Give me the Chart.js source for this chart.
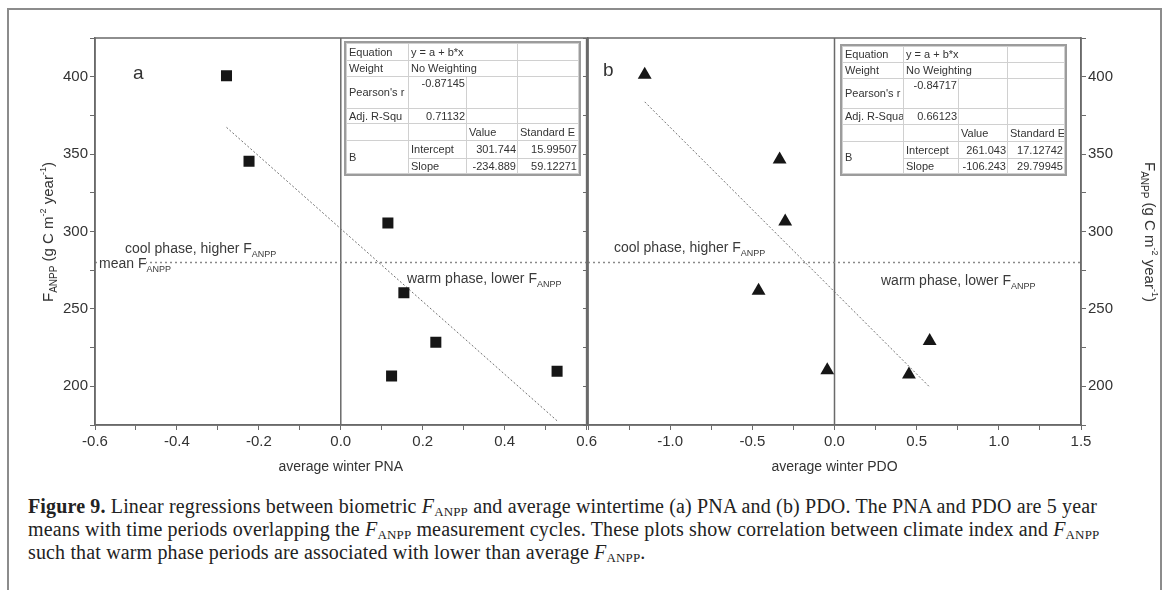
<!DOCTYPE html>
<html>
<head>
<meta charset="utf-8">
<script src="https://cdn.jsdelivr.net/npm/chart.js@4.4.0/dist/chart.umd.min.js"></script>
<style>
body{margin:0;width:1167px;height:590px;overflow:hidden;background:#fff;position:relative;font-family:"Liberation Sans",Arial,sans-serif;color:#333}
#frame{position:absolute;left:7px;top:8px;width:1151px;height:600px;border:2px solid #8c8c8c;border-bottom:none}
canvas{position:absolute;top:0}
#cA{left:0}
#cB{left:580px}
.lbl{position:absolute;font-size:14px;white-space:nowrap;color:#3a3a3a;line-height:16px}
.lbl sub{font-size:9px;vertical-align:-4px;line-height:0}
.lbl sup{font-size:9px;vertical-align:6px;line-height:0}
.letter{position:absolute;font-size:19px;color:#333}
.ytitle{position:absolute;font-size:15px;white-space:nowrap;color:#333;line-height:16px}
.ytitle sub{font-size:10px;vertical-align:-4px;line-height:0}
.ytitle sup{font-size:9px;vertical-align:7px;line-height:0}
table.stat{position:absolute;border-collapse:collapse;table-layout:fixed;font-size:11px;color:#333;background:#fff;outline:2px solid #9c9c9c;box-shadow:2px 2px 0 #d0d0d0}
table.stat td{border:1px solid #d0d0d0;padding:0 1px 0 2px;overflow:hidden;white-space:nowrap;line-height:13px}
table.stat td.num{text-align:right}
table.stat td.top{vertical-align:top}
#cap{position:absolute;left:28px;top:495px;font-family:"Liberation Serif","Times New Roman",serif;font-size:20px;line-height:23px;color:#222;white-space:nowrap;letter-spacing:0.15px}
#cap sub{font-size:13px;vertical-align:-3px;line-height:0}
</style>
</head>
<body>
<div id="frame"></div>
<canvas id="cA" width="600" height="490"></canvas>
<canvas id="cB" width="587" height="490"></canvas>

<div class="letter" style="left:133px;top:62px">a</div>
<div class="letter" style="left:603px;top:59px">b</div>

<div class="ytitle" style="left:48px;top:232px;transform:translate(-50%,-50%) rotate(-90deg)">F<sub>ANPP</sub> (g C m<sup>-2</sup> year<sup>-1</sup>)</div>
<div class="ytitle" style="left:1150px;top:232px;transform:translate(-50%,-50%) rotate(90deg)">F<sub>ANPP</sub> (g C m<sup>-2</sup> year<sup>-1</sup>)</div>

<div class="lbl" style="left:125px;top:240px">cool phase, higher F<sub>ANPP</sub></div>
<div class="lbl" style="left:99px;top:255px"><span style="background:#fff">mean F</span><sub>ANPP</sub></div>
<div class="lbl" style="left:407px;top:270px">warm phase, lower F<sub>ANPP</sub></div>
<div class="lbl" style="left:614px;top:239px">cool phase, higher F<sub>ANPP</sub></div>
<div class="lbl" style="left:881px;top:272px">warm phase, lower F<sub>ANPP</sub></div>

<table class="stat" id="tA" style="left:346px;top:43px;width:232px"></table>
<table class="stat" id="tB" style="left:842px;top:46px;width:222px"></table>

<div id="cap"><b>Figure 9.</b> Linear regressions between biometric <i>F</i><sub>ANPP</sub> and average wintertime (a) PNA and (b) PDO. The PNA and PDO are 5 year<br>means with time periods overlapping the <i>F</i><sub>ANPP</sub> measurement cycles. These plots show correlation between climate index and <i>F</i><sub>ANPP</sub><br>such that warm phase periods are associated with lower than average <i>F</i><sub>ANPP</sub>.</div>

<script>
// valores (painel a: PNA, painel b: PDO)
const pnaX = [-0.279, -0.224, 0.115, 0.154, 0.232, 0.124, 0.528];
const pnaF = [400.6, 345.4, 305.5, 260.5, 228.5, 206.6, 209.7];
const pdoX = [-1.155, -0.334, -0.300, -0.462, -0.044, 0.453, 0.579];
const pdoF = [401.2, 346.5, 306.4, 261.8, 210.3, 207.7, 229.2];
const meanF = 280;

// tabelas de regressão (Origin)
const statLabelsA = ['Equation', 'Weight', "Pearson's r", 'Adj. R-Squ'];
const statLabelsB = ['Equation', 'Weight', "Pearson's r", 'Adj. R-Squa'];
const statA = ['y = a + b*x', 'No Weighting', '-0.87145', '0.71132'];
const statB = ['y = a + b*x', 'No Weighting', '-0.84717', '0.66123'];
const coefA = [301.744, 15.99507, -234.889, 59.12271]; // intercept, erro, slope, erro
const coefB = [261.043, 17.12742, -106.243, 29.79945];

function fillTable(id, labels, stat, coef, cols, rows) {
    const t = document.getElementById(id);
    let h = '<colgroup>' + cols.map(w => '<col style="width:' + w + 'px">').join('') + '</colgroup>';
    h += '<tr style="height:' + rows[0] + 'px"><td>' + labels[0] + '</td><td colspan="2">' + stat[0] + '</td><td></td></tr>';
    h += '<tr style="height:' + rows[1] + 'px"><td>' + labels[1] + '</td><td colspan="2">' + stat[1] + '</td><td></td></tr>';
    h += '<tr style="height:' + rows[2] + 'px"><td>' + labels[2] + '</td><td class="num top">' + stat[2] + '</td><td></td><td></td></tr>';
    h += '<tr style="height:' + rows[3] + 'px"><td>' + labels[3] + '</td><td class="num">' + stat[3] + '</td><td></td><td></td></tr>';
    h += '<tr style="height:' + rows[4] + 'px"><td></td><td></td><td>Value</td><td>Standard E</td></tr>';
    h += '<tr style="height:' + rows[5] + 'px"><td rowspan="2">B</td><td>Intercept</td><td class="num">' + coef[0].toFixed(3) + '</td><td class="num">' + coef[1].toFixed(5) + '</td></tr>';
    h += '<tr style="height:' + rows[6] + 'px"><td>Slope</td><td class="num">' + coef[2].toFixed(3) + '</td><td class="num">' + coef[3].toFixed(5) + '</td></tr>';
    t.innerHTML = h;
}
fillTable('tA', statLabelsA, statA, coefA, [62, 58, 51, 61], [17, 16, 32, 15, 17, 18, 15]);
fillTable('tB', statLabelsB, statB, coefB, [61, 55, 49, 57], [16, 16, 30, 16, 17, 17, 15]);

const fonte = { family: 'Liberation Sans', size: 15 };
const cinza = '#6a6a6a';

// moldura do painel e linha do zero
const moldura = {
    id: 'moldura',
    beforeDatasetsDraw(chart) {
        const a = chart.chartArea, ctx = chart.ctx;
        const x0 = chart.scales.x.getPixelForValue(0);
        ctx.save();
        ctx.strokeStyle = cinza;
        ctx.lineWidth = 1.5;
        ctx.beginPath();
        ctx.moveTo(x0, a.top);
        ctx.lineTo(x0, a.bottom);
        ctx.stroke();
        ctx.restore();
    },
    afterDraw(chart) {
        const a = chart.chartArea, ctx = chart.ctx;
        ctx.save();
        ctx.strokeStyle = cinza;
        ctx.lineWidth = 1.5;
        ctx.strokeRect(a.left, a.top, a.right - a.left, a.bottom - a.top);
        ctx.restore();
    }
};

function eixoY(pos, largura, mostrar) {
    return {
        type: 'linear', position: pos, min: 175, max: 425,
        ticks: {
            display: mostrar, stepSize: 25, autoSkip: false, font: fonte, color: '#333', padding: 2,
            callback: v => (v % 50 === 0 ? v : '')
        },
        grid: { drawOnChartArea: false, drawTicks: true, tickLength: 5, color: cinza },
        border: { display: true, color: cinza, width: 1.5 },
        afterFit: s => { s.width = largura; }
    };
}

function datasets(xs, ys, coef, estilo, raio, xmin, xmax, yId) {
    const lo = Math.min(...xs), hi = Math.max(...xs);
    return [
        {
            data: xs.map((x, i) => ({ x: x, y: ys[i] })),
            pointStyle: estilo, pointRadius: raio, pointBackgroundColor: '#161616',
            pointBorderWidth: 0, showLine: false, yAxisID: yId
        },
        {
            data: [{ x: lo, y: coef[0] + coef[2] * lo }, { x: hi, y: coef[0] + coef[2] * hi }],
            showLine: true, borderColor: '#707070', borderWidth: 1, borderDash: [2, 2],
            pointRadius: 0, yAxisID: yId
        },
        {
            data: [{ x: xmin, y: meanF }, { x: xmax, y: meanF }],
            showLine: true, borderColor: '#8a8a8a', borderWidth: 1.5, borderDash: [2, 3],
            pointRadius: 0, yAxisID: yId
        }
    ];
}

const comum = {
    responsive: false,
    animation: false,
    plugins: { legend: { display: false }, tooltip: { enabled: false } }
};

new Chart(document.getElementById('cA'), {
    type: 'scatter',
    data: { datasets: datasets(pnaX, pnaF, coefA, 'rect', 7.8, -0.6, 0.6, 'y') },
    options: Object.assign({}, comum, {
        layout: { padding: { top: 38, right: 13, left: 0, bottom: 0 } },
        scales: {
            x: {
                type: 'linear', min: -0.6, max: 0.6,
                ticks: {
                    stepSize: 0.1, autoSkip: false, maxRotation: 0, font: fonte, color: '#333', padding: 3,
                    callback: v => (Math.abs(Math.round(v * 10)) % 2 === 0 ? (Math.round(v * 10) / 10).toFixed(1) : '')
                },
                grid: { drawOnChartArea: false, drawTicks: true, tickLength: 5, color: cinza },
                border: { display: true, color: cinza, width: 1.5 },
                title: { display: true, text: 'average winter PNA', font: { family: 'Liberation Sans', size: 14 }, color: '#333', padding: { top: 0, bottom: 14 } },
                afterFit: s => { s.height = 65; }
            },
            y: eixoY('left', 95, true)
        }
    }),
    plugins: [moldura]
});

new Chart(document.getElementById('cB'), {
    type: 'scatter',
    data: { datasets: datasets(pdoX, pdoF, coefB, 'triangle', 8, -1.5, 1.5, 'yR') },
    options: Object.assign({}, comum, {
        layout: { padding: { top: 38, right: 0, left: 0, bottom: 0 } },
        scales: {
            x: {
                type: 'linear', min: -1.5, max: 1.5,
                ticks: {
                    stepSize: 0.25, autoSkip: false, maxRotation: 0, font: fonte, color: '#333', padding: 3,
                    callback: v => {
                        const m = Math.round(v * 4);
                        return (m % 2 === 0 && m > -6) ? (m / 4).toFixed(1) : '';
                    }
                },
                grid: { drawOnChartArea: false, drawTicks: true, tickLength: 5, color: cinza },
                border: { display: true, color: cinza, width: 1.5 },
                title: { display: true, text: 'average winter PDO', font: { family: 'Liberation Sans', size: 14 }, color: '#333', padding: { top: 0, bottom: 14 } },
                afterFit: s => { s.height = 65; }
            },
            yL: eixoY('left', 7, false),
            yR: eixoY('right', 86, true)
        }
    }),
    plugins: [moldura]
});
</script>
</body>
</html>
